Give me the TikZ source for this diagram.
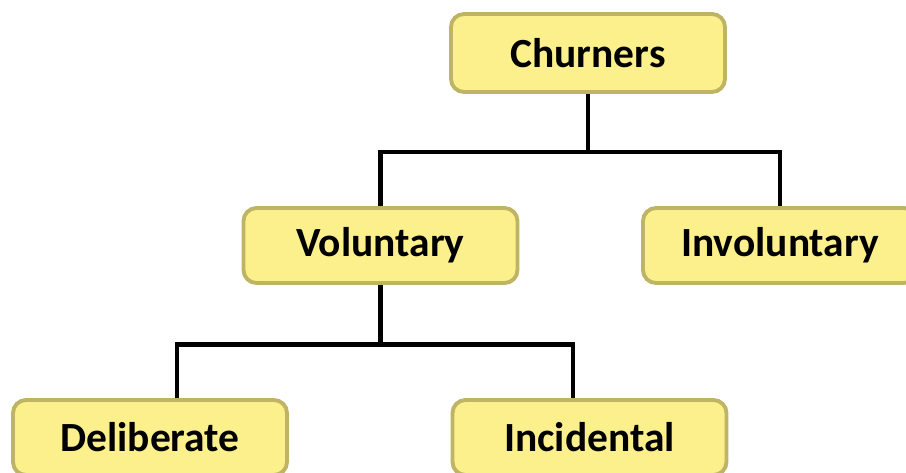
\documentclass[tikz,border=0pt]{standalone}
\usepackage{fontspec}
\setmainfont{Carlito}
\usetikzlibrary{calc}
\definecolor{boxfill}{RGB}{252,240,140}
\definecolor{boxline}{RGB}{190,180,100}
\begin{document}
\begin{tikzpicture}[
		box/.style={draw=boxline, fill=boxfill, line width=1.1pt, rounded corners=0.13cm,
			minimum width=2.74cm, minimum height=0.75cm, inner sep=0pt,
			font=\fontsize{11.8}{14}\selectfont\bfseries},
		link/.style={black, line width=1.3pt}
	]
	\useasboundingbox (0,0) rectangle (9.06,4.72);

	% Boxes
	\node[box, minimum height=0.78cm] (churn) at (5.88,4.19) {Churners};
	\node[box] (vol) at (3.805,2.265) {Voluntary};
	\node[box] (invol) at (7.80,2.265) {Involuntary};
	\node[box] (delib) at (1.50,0.345) {Deliberate};
	\node[box] (incid) at (5.895,0.345) {Incidental};

	% Upper branch
	\draw[link] (churn.south) -- ++(0,-0.58) coordinate (j1);
	\draw[link] (vol.north) |- (j1) -| (invol.north);

	% Lower branch
	\draw[link] (vol.south) -- ++(0,-0.595) coordinate (j2);
	\draw[link] ([xshift=0.27cm]delib.north) |- (j2) -| ([xshift=-0.165cm]incid.north);
\end{tikzpicture}
\end{document}
